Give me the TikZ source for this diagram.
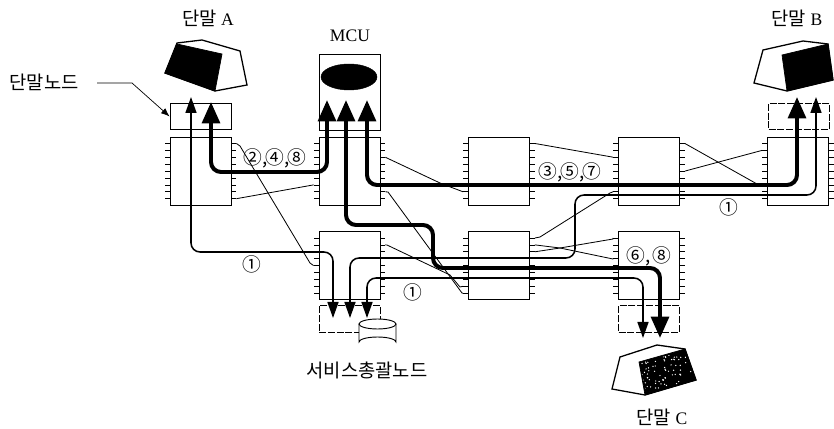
\documentclass[tikz,border=0pt]{standalone}
\usepackage{fontspec}
\setmainfont{Liberation Serif}
\newfontfamily\krfont{Noto Sans CJK KR}
\usetikzlibrary{arrows.meta,shapes.geometric}
\tikzset{
  swbox/.style={draw, line width=0.7pt, inner sep=0pt, minimum width=1.83cm, minimum height=2.04cm},
  termbox/.style={draw, line width=0.7pt, inner sep=0pt, minimum width=1.83cm, minimum height=0.8cm},
  termdash/.style={termbox, dashed, dash pattern=on 6pt off 1.5pt},
  porttick/.style={line width=0.6pt},
  linkline/.style={line width=0.7pt},
  flowthin/.style={{Triangle[length=4.8mm,width=3.3mm]}-{Triangle[length=4.8mm,width=3.3mm]}, line width=1.3pt, rounded corners=2.7mm},
  flowthick/.style={{Triangle[length=6.4mm,width=5.3mm]}-{Triangle[length=6.4mm,width=5.3mm]}, line width=3.4pt, rounded corners=3mm},
  termshape/.style={draw, line width=1.1pt, fill=white},
  termface/.style={draw, line width=0.6pt, fill=black},
  portlabel/.style={font=\krfont\fontsize{16}{18}\selectfont, inner sep=0pt},
  textlabel/.style={font=\fontsize{15}{18}\selectfont, inner sep=0pt}
}
\newcommand{\krtext}[1]{{\krfont\fontsize{16}{18}\selectfont #1}}
\newcommand{\numsep}{,\kern-1.5pt}

\begin{document}
\begin{tikzpicture}[x=0.03cm, y=-0.03cm, >=Latex]
  \useasboundingbox (0,0) rectangle (834,429);
  % switches
  \node[swbox] (swA) at (200.5,171) {};
  \node[swbox] (swM) at (349.5,171) {};
  \node[swbox] (swD) at (499,171) {};
  \node[swbox] (swF) at (649,171) {};
  \node[swbox] (swB) at (798,171) {};
  \node[swbox] (swS) at (349.5,265.5) {};
  \node[swbox] (swE) at (499,265.5) {};
  \node[swbox] (swC) at (649,265.5) {};
  \foreach \sw in {swA,swM,swD,swF,swB,swS,swE,swC} {
    \foreach \i in {1,...,9} {
      \draw[porttick] (\sw.north west) ++(0,\i*6.9) -- ++(-5,0) coordinate (\sw-l\i);
      \draw[porttick] (\sw.north east) ++(0,\i*6.9) -- ++(5,0) coordinate (\sw-r\i);
    }
  }
  % terminal nodes
  \node[termbox] (tnA) at (200.5,116.5) {};
  \node[termbox, minimum height=2.28cm] (mcu) at (349.5,92) {};
  \node[termdash] (tnB) at (799,116.5) {};
  \node[termdash] (tnS) at (349.5,319) {};
  \node[termdash] (tnC) at (649,319) {};
  \node[draw, fill=black, ellipse, inner sep=0pt, minimum width=1.68cm, minimum height=0.78cm] (disp) at (349,77) {};
  % disk of the service node
  \draw[line width=0.8pt, fill=white] (359,324) -- (359,342) arc[start angle=180, end angle=360, x radius=18.5, y radius=5] -- (396,324);
  \draw[line width=0.8pt, fill=white] (377.5,324) ellipse [x radius=18.5, y radius=5];
  % terminals
  \draw[termshape] (177,43) -- (202,40) -- (240,51) -- (247,85) -- (215,91) -- (165,73) -- cycle;
  \draw[termface] (177,44) -- (222,54) -- (215,91) -- (165,73) -- cycle;
  \draw[termshape] (763,50) -- (803,41) -- (828,44) -- (833,80) -- (787,91) -- (754,83) -- cycle;
  \draw[termface] (782,55) -- (828,44) -- (833,80) -- (787,91) -- cycle;
  \draw[termshape] (620,357) -- (657,345) -- (685,349) -- (696,380) -- (645,395) -- (612,389) -- cycle;
  \draw[termface] (639,362) -- (685,349) -- (696,380) -- (645,395) -- cycle;
  \begin{scope}
    \clip (640,363) -- (684,351) -- (694,379) -- (646,393) -- cycle;
    \pgfmathsetseed{7}
    \foreach \i in {1,...,110} {
      \fill[white] ({640+56*rnd},{350+44*rnd}) circle (0.7);
    }
  \end{scope}
  % thin links
  \draw[linkline] (swA-r1) -- (240,146) -- (310,263) -- (swS-l5);
  \draw[linkline] (swA-r9) -- (swM-l7);
  \draw[linkline] (swM-r3) -- (440,183) -- (453,188) -- (swD-l8);
  \draw[linkline] (swM-r8) -- (388,192) -- (462,293) -- (swE-l9);
  \draw[linkline] (swS-r2) -- (387,245) -- (450,275) -- (460,287) -- (swE-l8);
  \draw[linkline] (swD-r1) -- (612,157) -- (swF-l3);
  \draw[linkline] (swF-r1) -- (757,184) -- (swB-l7);
  \draw[linkline] (swF-r5) -- (swB-l2);
  \draw[linkline] (swE-r1) -- (540,237) -- (610,193) -- (swF-l8);
  \draw[linkline] (swE-r2) -- (560,248) -- (613,259) -- (swC-l4);
  \draw[linkline] (swE-r3) -- (560,248) -- (613,239) -- (swC-l1);
  % routes
  \coordinate (tipA1) at (191,97);
  \coordinate (tipA2) at (211,102);
  \coordinate (tipM1) at (327,100);
  \coordinate (tipM2) at (346,100);
  \coordinate (tipM3) at (367,100);
  \coordinate (tipB1) at (797,97);
  \coordinate (tipB2) at (816,97);
  \coordinate (tipS1) at (333,318);
  \coordinate (tipS2) at (350,318);
  \coordinate (tipS3) at (367,318);
  \coordinate (tipC1) at (643,338);
  \coordinate (tipC2) at (660,338);
  \draw[flowthin] (tipA1) -- (191,252) -- (333,252) -- (tipS1);
  \draw[flowthin] (tipS2) -- (350,258) -- (575,258) -- (575,195) -- (816,195) -- (tipB2);
  \draw[flowthin] (tipS3) -- (367,278) -- (643,278) -- (tipC1);
  \draw[flowthick] (tipA2) -- (211,172) -- (327,172) -- (tipM1);
  \draw[flowthick] (tipM2) -- (346,225) -- (433,225) -- (433,268) -- (660,268) -- (tipC2);
  \draw[flowthick] (tipM3) -- (367,185) -- (797,185) -- (tipB1);
  % labels
  \node[textlabel] (lblA) at (208,18) {\krtext{단말} A};
  \node[textlabel] (lblM) at (350,36) {MCU};
  \node[textlabel] (lblB) at (797,18) {\krtext{단말} B};
  \node[textlabel] (lblC) at (662,417) {\krtext{단말} C};
  \node[portlabel] (lblT) at (44,82) {단말노드};
  \node[portlabel] (lblS) at (367,370) {서비스총괄노드};
  \coordinate (tnStart) at (97,83);
  \draw[line width=0.6pt, -{Latex[length=2.6mm,width=2mm]}] (tnStart) -- (132,83) -- (tnA.west);
  \node[portlabel] (n248) at (275,158) {②\numsep④\numsep⑧};
  \node[portlabel] (n357) at (570,172) {③\numsep⑤\numsep⑦};
  \node[portlabel] (n68) at (649,256) {⑥\numsep\hspace{3pt}⑧};
  \node[portlabel] (n1a) at (252,264) {①};
  \node[portlabel] (n1b) at (413,292) {①};
  \node[portlabel] (n1c) at (729,207) {①};
\end{tikzpicture}
\end{document}
